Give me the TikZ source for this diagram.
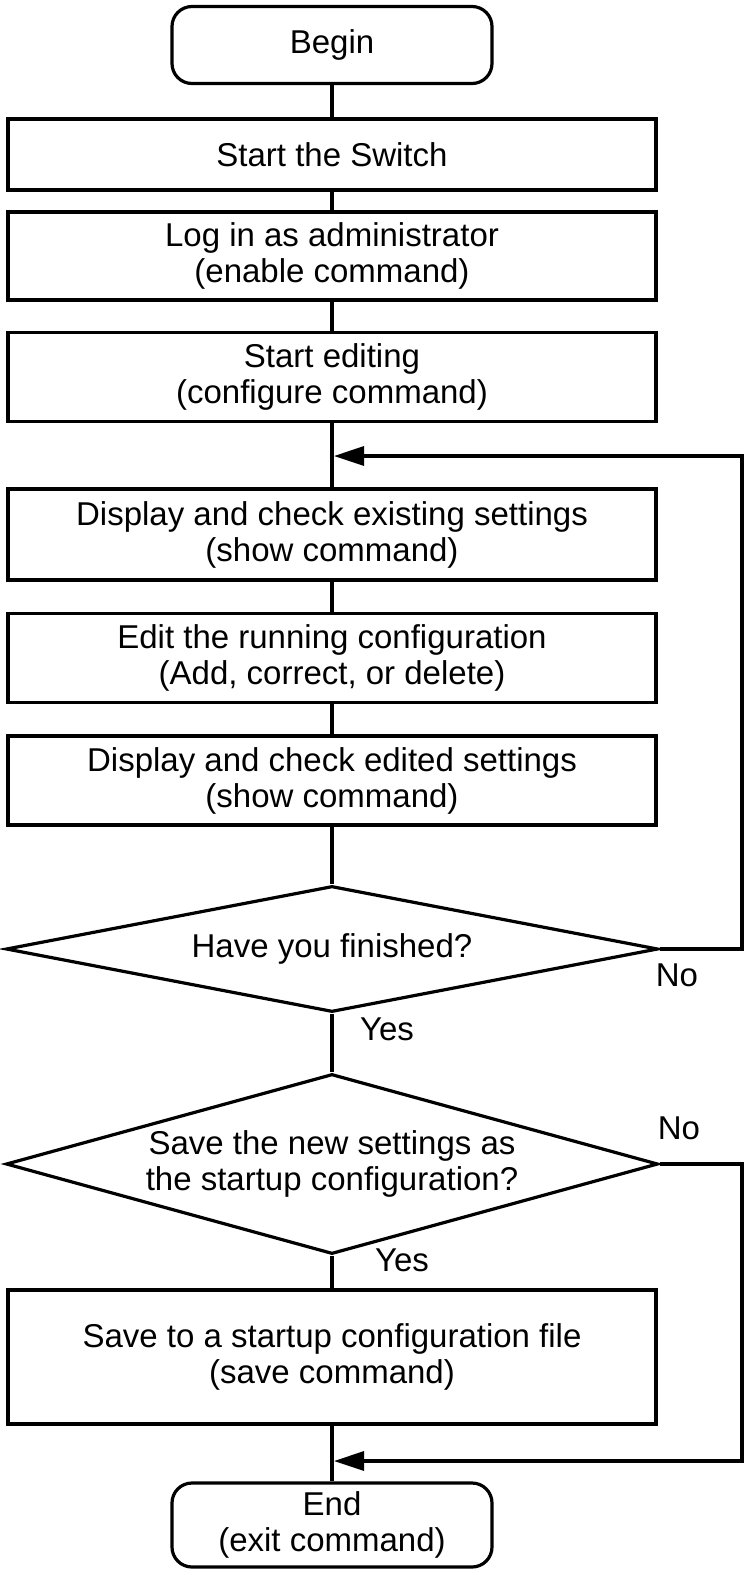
\documentclass[tikz,border=0pt]{standalone}
\usepackage{fontspec}
\setmainfont{Liberation Sans}
\usetikzlibrary{shapes.geometric,arrows.meta}
\begin{document}
\begin{tikzpicture}[x=0.5pt,y=-0.5pt,
  every node/.style={font=\fontsize{16.5}{18}\selectfont},
  stepbox/.style={draw,line width=1.6pt,rectangle,minimum width=324pt,align=center,inner sep=0pt},
  termbox/.style={draw,line width=1.6pt,rectangle,rounded corners=10pt,minimum width=160pt,align=center,inner sep=0pt},
  decide/.style={draw,line width=1.6pt,diamond,minimum width=326pt,align=center,inner sep=0pt},
  conn/.style={line width=1.6pt},
  backarrow/.style={line width=1.6pt,-{Triangle[length=15pt,width=9.5pt]}},
  lbl/.style={inner sep=0pt}]
\useasboundingbox (0,0) rectangle (750,1575);
\node[termbox,minimum height=38.5pt] (begin) at (332,45) {Begin};
\node[stepbox,minimum height=35.5pt] (switch) at (332,154.5) {Start the Switch};
\node[stepbox,minimum height=44pt] (login) at (332,256) {Log in as administrator\\(enable command)};
\node[stepbox,minimum height=44.5pt] (edit) at (332,377) {Start editing\\(configure command)};
\node[stepbox,minimum height=45.5pt] (show1) at (332,534.5) {Display and check existing settings\\(show command)};
\node[stepbox,minimum height=44.5pt] (run) at (332,658) {Edit the running configuration\\(Add, correct, or delete)};
\node[stepbox,minimum height=44.5pt] (show2) at (332,780.5) {Display and check edited settings\\(show command)};
\node[decide,minimum height=63pt,aspect=5.2] (fin) at (332,949) {Have you finished?};
\node[decide,minimum height=90pt,aspect=3.6] (savq) at (332,1164) {Save the new settings as\\the startup configuration?};
\node[stepbox,minimum height=67pt] (save) at (332,1357) {Save to a startup configuration file\\(save command)};
\node[termbox,minimum height=42pt] (end) at (332,1525) {End\\(exit command)};
\coordinate (loopin) at (334,456);
\coordinate (loopa) at (742,949);
\coordinate (loopb) at (742,456);
\coordinate (skipin) at (334,1461);
\coordinate (skipa) at (742,1164);
\coordinate (skipb) at (742,1461);
\draw[conn] (begin) -- (switch);
\draw[conn] (switch) -- (login);
\draw[conn] (login) -- (edit);
\draw[conn] (edit) -- (show1);
\draw[conn] (show1) -- (run);
\draw[conn] (run) -- (show2);
\draw[conn] (show2) -- (fin);
\draw[conn] (fin) -- (savq);
\draw[conn] (savq) -- (save);
\draw[conn] (save) -- (end);
\draw[backarrow] (fin.east) -- (loopa) -- (loopb) -- (loopin);
\draw[backarrow] (savq.east) -- (skipa) -- (skipb) -- (skipin);
\node[lbl] (no1) at (677,975) {No};
\node[lbl] (yes1) at (387,1029) {Yes};
\node[lbl] (no2) at (679,1128) {No};
\node[lbl] (yes2) at (402,1260) {Yes};
\end{tikzpicture}
\end{document}
